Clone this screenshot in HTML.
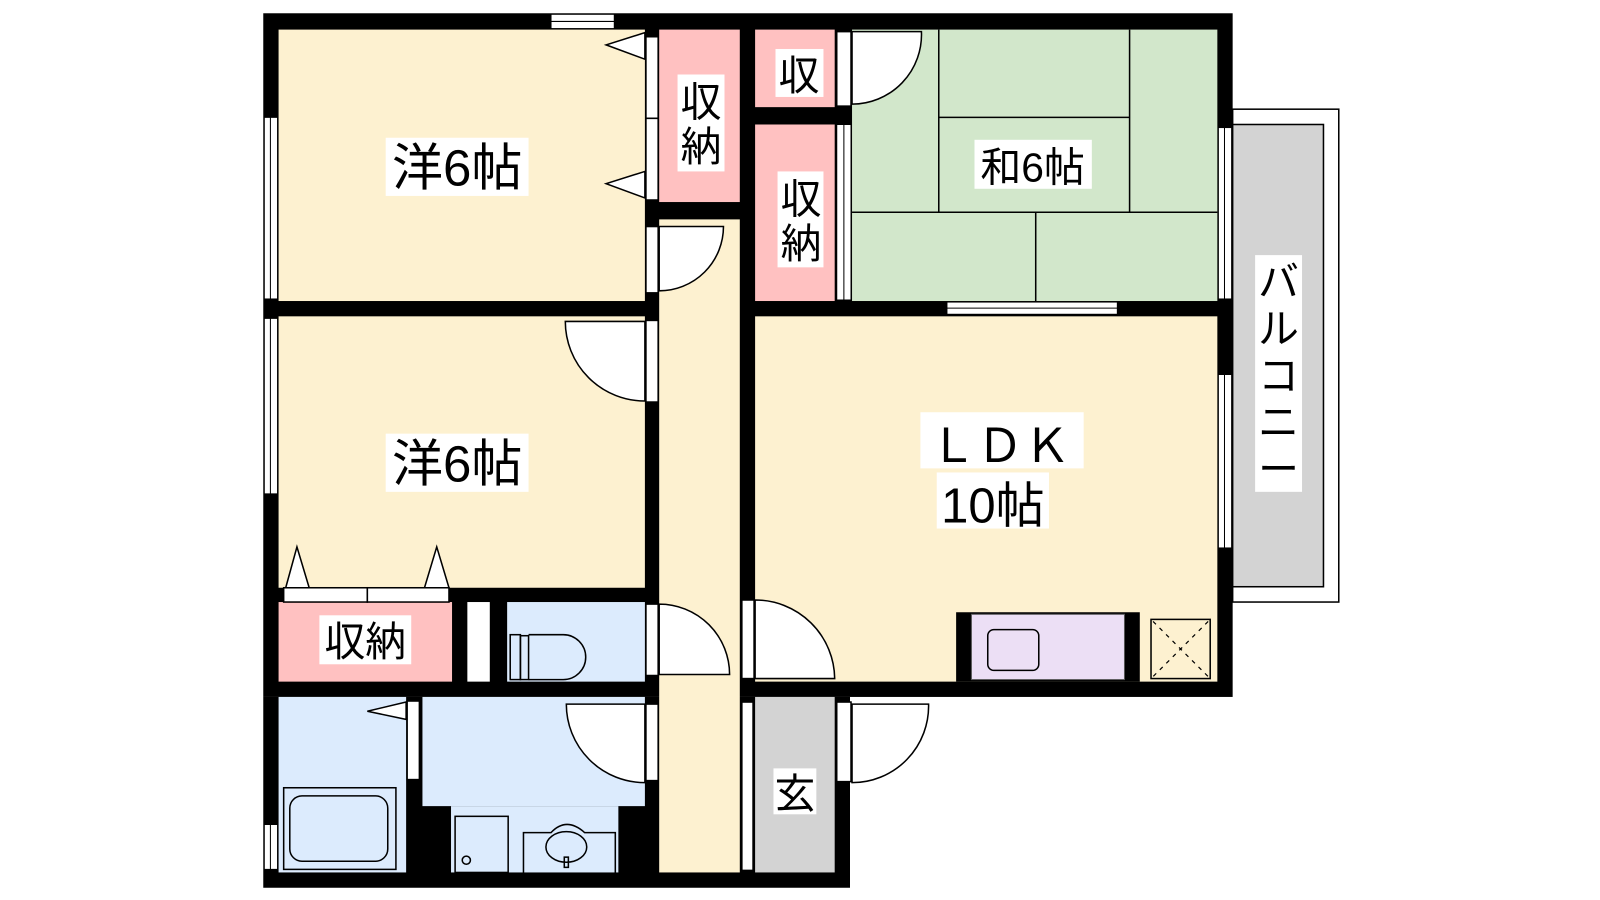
<!DOCTYPE html>
<html><head><meta charset="utf-8"><style>html,body{margin:0;padding:0;background:#fff;overflow:hidden}svg{display:block}text{font-family:"Liberation Sans","Noto Sans CJK JP",sans-serif;fill:#000}</style></head><body>
<svg width="1600" height="900" viewBox="0 0 1568 882" preserveAspectRatio="none" xmlns="http://www.w3.org/2000/svg">
<rect width="1568" height="882" fill="#fff"/>
<rect x="1208" y="107" width="104" height="483" fill="#fff" stroke="#000" stroke-width="1.5"/>
<rect x="1208" y="122" width="89" height="453" fill="#d3d3d3" stroke="#000" stroke-width="1.5"/>
<rect x="258" y="13" width="950" height="670" fill="#000"/>
<rect x="258" y="683" width="575" height="187" fill="#000"/>
<g fill="#fdf1d0">
<rect x="273" y="29" width="359" height="266"/>
<rect x="273" y="310" width="359" height="266"/>
<rect x="646" y="215" width="79" height="640"/>
<rect x="740" y="310" width="453" height="358"/>
</g>
<g fill="#ffc1c1">
<rect x="646" y="29" width="79" height="169"/>
<rect x="740" y="29" width="78" height="76"/>
<rect x="740" y="122" width="78" height="173"/>
<rect x="273" y="590" width="170" height="78"/>
</g>
<rect x="835" y="29" width="358" height="266" fill="#d2e7cb"/>
<g fill="#dcebfd">
<rect x="497" y="590" width="135" height="78"/>
<rect x="273" y="683" width="125" height="172"/>
<rect x="414" y="683" width="218" height="107"/>
<rect x="442" y="790" width="164" height="65"/>
</g>
<rect x="458" y="590" width="22" height="78" fill="#fff"/>
<rect x="740" y="683" width="78" height="172" fill="#d3d3d3"/>
<g stroke="#000" stroke-width="1.5" fill="none">
<line x1="920" y1="29" x2="920" y2="208"/><line x1="1107" y1="29" x2="1107" y2="208"/>
<line x1="920" y1="115" x2="1107" y2="115"/><line x1="835" y1="208" x2="1193" y2="208"/>
<line x1="1015" y1="208" x2="1015" y2="295"/>
</g>
<g fill="#fff" stroke="#000" stroke-width="1">
<rect x="540" y="14" width="62" height="14"/><line x1="540" y1="21" x2="602" y2="21"/>
<rect x="259" y="115" width="13" height="178"/><line x1="265" y1="115" x2="265" y2="293"/>
<rect x="259" y="312" width="13" height="172"/><line x1="265" y1="312" x2="265" y2="484"/>
<rect x="259" y="808" width="13" height="44"/><line x1="265" y1="808" x2="265" y2="852"/>
<rect x="1194" y="125" width="13" height="168"/><line x1="1200" y1="125" x2="1200" y2="293"/>
<rect x="1194" y="367" width="13" height="170"/><line x1="1200" y1="367" x2="1200" y2="537"/>
<rect x="928" y="296" width="167" height="12"/><line x1="928" y1="302" x2="1095" y2="302"/>
<rect x="820" y="122" width="14" height="172"/><line x1="827" y1="122" x2="827" y2="294"/>
</g>
<g fill="#fff" stroke="#000" stroke-width="1.5">
<rect x="633" y="36" width="12" height="80"/><rect x="633" y="116" width="12" height="80"/>
<rect x="633" y="222" width="12" height="65"/>
<path d="M646 222 L709 222 A63 63 0 0 1 646 285 Z"/>
<rect x="633" y="314" width="12" height="80"/>
<path d="M632 315 L554 315 A78 78 0 0 0 632 393 Z"/>
<rect x="633" y="592" width="12" height="70"/>
<path d="M646 592 A69 69 0 0 1 715 661 L646 661 Z"/>
<rect x="727" y="588" width="12" height="77"/>
<path d="M740 588 A78 78 0 0 1 818 665 L740 665 Z"/>
<rect x="820" y="31" width="14" height="73"/>
<path d="M835 31 L903 31 A68 68 0 0 1 835 102 Z"/>
<rect x="633" y="690" width="12" height="75"/>
<path d="M632 690 L555 690 A77 77 0 0 0 632 767 Z"/>
<rect x="399" y="687" width="12" height="77"/>
<rect x="727" y="688" width="11" height="165"/>
<rect x="820" y="688" width="14" height="78"/>
<path d="M835 690 L910 690 A75 75 0 0 1 835 767 Z"/>
<rect x="278" y="576" width="82" height="14"/><rect x="360" y="576" width="80" height="14"/>
<path d="M280 576 L291 536 L303 576 Z"/><path d="M416 576 L428 536 L440 576 Z"/>
<path d="M632 32 L594 44 L632 58 Z"/><path d="M632 168 L594 180 L632 194 Z"/>
<path d="M398 688 L360 697 L398 705 Z"/>
</g>
<g fill="none" stroke="#000" stroke-width="1.5">
<rect x="278" y="772" width="110" height="80" fill="#dcebfd"/>
<rect x="284" y="780" width="96" height="64" rx="12"/>
<rect x="446" y="800" width="52" height="55"/><circle cx="457" cy="843" r="4"/>
<path d="M513 855 L513 816 L540 816 Q555 800 573 816 L603 816 L603 855"/>
<ellipse cx="555" cy="830" rx="20" ry="15"/><rect x="553" y="840" width="4" height="10"/>
<rect x="500" y="622" width="10" height="44"/><rect x="510" y="623" width="8" height="43"/>
<path d="M518 622 L552 622 A22 22 0 0 1 552 666 L518 666"/>
</g>
<rect x="937" y="600" width="180" height="68" fill="#000"/>
<rect x="952" y="602" width="150" height="64" fill="#ecdff5" stroke="#555" stroke-width="1"/>
<rect x="968" y="617" width="50" height="40" rx="6" fill="none" stroke="#000" stroke-width="1.5"/>
<rect x="1128" y="607" width="58" height="58" fill="#fdf1d0" stroke="#000" stroke-width="1.5"/>
<path d="M1130 609 L1184 663 M1184 609 L1130 663" stroke="#000" stroke-width="1.2" stroke-dasharray="4 5"/>
<g fill="#fff">
<rect x="378" y="135" width="140" height="57"/><rect x="378" y="425" width="140" height="57"/>
<rect x="664" y="73" width="46" height="95"/><rect x="760" y="48" width="47" height="47"/>
<rect x="762" y="168" width="45" height="94"/><rect x="955" y="137" width="115" height="48"/>
<rect x="313" y="603" width="90" height="48"/><rect x="902" y="404" width="160" height="55"/>
<rect x="918" y="463" width="110" height="55"/><rect x="758" y="753" width="42" height="45"/>
<rect x="1230" y="250" width="46" height="232"/>
</g>
<g font-size="50">
<text x="448" y="182" text-anchor="middle">洋6帖</text>
<text x="448" y="472" text-anchor="middle">洋6帖</text>
<text x="980" y="453" text-anchor="middle" font-size="46">ＬＤＫ</text>
<text x="973" y="512" text-anchor="middle" font-size="48">10帖</text>
</g>
<g font-size="40">
<text x="687" y="114" text-anchor="middle">収</text><text x="687" y="158" text-anchor="middle">納</text>
<text x="783" y="88" text-anchor="middle">収</text>
<text x="785" y="209" text-anchor="middle">収</text><text x="785" y="253" text-anchor="middle">納</text>
<text x="1012" y="178" text-anchor="middle">和6帖</text>
<text x="358" y="643" text-anchor="middle">収納</text>
<text x="779" y="792" text-anchor="middle">玄</text>
<text x="1253" y="290" text-anchor="middle">バ</text><text x="1253" y="336" text-anchor="middle">ル</text>
<text x="1253" y="382" text-anchor="middle">コ</text><text x="1253" y="428" text-anchor="middle">ニ</text>
<text x="1253" y="474" text-anchor="middle">ー</text>
</g>
</svg>
</body></html>
